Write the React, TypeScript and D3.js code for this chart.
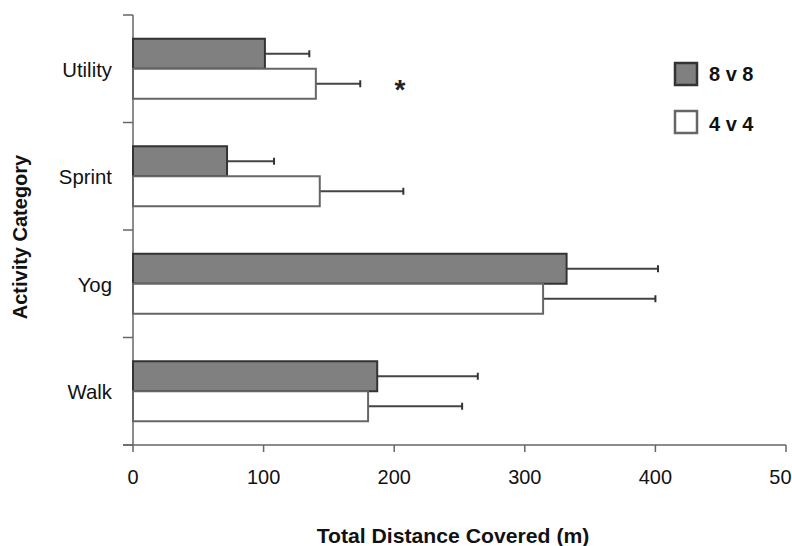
import React from "react";
import * as d3 from "d3";

const categories = ["Utility", "Sprint", "Yog", "Walk"];
const series = ["8 v 8", "4 v 4"];
const means8v8 = [101, 72, 332, 187];
const err8v8 = [34, 36, 70, 77];
const means4v4 = [140, 143, 314, 180];
const err4v4 = [34, 64, 86, 72];
const xTicks = [0, 100, 200, 300, 400, 500];
const significant = ["Utility"];

const W = 792;
const H = 546;
const FONT = "Liberation Sans, Arial, Helvetica, sans-serif";

export default function App() {
  const x = d3.scaleLinear().domain([0, 500]).range([133, 786]);
  const yBand = d3.scaleBand().domain(categories).range([15, 445]).paddingInner(0).paddingOuter(0);
  const inner = d3.scaleBand().domain(series).range([0, 60]);
  const fills = ["#808080", "#ffffff"];
  const strokes = ["#333333", "#666666"];
  const data = [
    { means: means8v8, errs: err8v8 },
    { means: means4v4, errs: err4v4 },
  ];
  const bw = yBand.bandwidth();
  const barOffset = (bw - 60) / 2;
  const axisColor = "#666";

  return (
    <svg width={W} height={H} style={{ position: "absolute", left: 0, top: 0, background: "#fff" }} fontFamily={FONT}>
      <rect x={0} y={0} width={W} height={H} fill="#fff" />
      {/* axes */}
      <line x1={x(0)} x2={x(0)} y1={15} y2={445} stroke={axisColor} strokeWidth={1.5} />
      <line x1={123} x2={x(500)} y1={445} y2={445} stroke={axisColor} strokeWidth={1.5} />
      {[...categories.map((c) => yBand(c)!), 445].map((yy, i) => (
        <line key={"yt" + i} x1={123} x2={x(0)} y1={yy} y2={yy} stroke={axisColor} strokeWidth={1.5} />
      ))}
      {xTicks.map((t) => (
        <g key={"xt" + t}>
          <line x1={x(t)} x2={x(t)} y1={445} y2={452} stroke={axisColor} strokeWidth={1.5} />
          <text x={x(t)} y={484} fontSize={21} textAnchor="middle" fill="#111" transform={`translate(${x(t)},0) scale(0.95,1) translate(${-x(t)},0)`}>{t}</text>
        </g>
      ))}
      {categories.map((c) => (
        <text key={"cl" + c} x={112} y={yBand(c)! + bw / 2 + 8} fontSize={21} textAnchor="end" fill="#111" transform={`translate(112,0) scale(0.97,1) translate(-112,0)`}>{c}</text>
      ))}
      {/* bars */}
      {series.map((s, si) =>
        categories.map((c, ci) => {
          const y0 = yBand(c)! + barOffset + inner(s)!;
          const h = inner.bandwidth();
          const v = data[si].means[ci];
          const e = data[si].errs[ci];
          const cy = y0 + h / 2;
          return (
            <g key={s + c}>
              <line x1={x(v)} x2={x(v + e)} y1={cy} y2={cy} stroke="#444" strokeWidth={2} />
              <line x1={x(v + e)} x2={x(v + e)} y1={cy - 3.5} y2={cy + 3.5} stroke="#333" strokeWidth={2} />
              <rect x={x(0)} y={y0} width={x(v) - x(0)} height={h} fill={fills[si]} stroke={strokes[si]} strokeWidth={2} />
            </g>
          );
        })
      )}
      {significant.map((c) => (
        <text key={"sig" + c} x={400} y={yBand(c)! + barOffset + 30 + 30} fontSize={28} fontWeight="bold" textAnchor="middle" fill="#222">*</text>
      ))}
      {/* legend */}
      {series.map((s, i) => (
        <g key={"lg" + s}>
          <rect x={675} y={63 + i * 48} width={22} height={22} fill={fills[i]} stroke={strokes[i]} strokeWidth={2.5} />
          <text x={709} y={81 + i * 50} fontSize={20} fontWeight="bold" fill="#111">{s}</text>
        </g>
      ))}
      {/* titles */}
      <text x={453} y={543} fontSize={20} fontWeight="bold" textAnchor="middle" fill="#111" transform="translate(453,0) scale(1.06,1) translate(-453,0)">Total Distance Covered (m)</text>
      <text transform="translate(27,237) rotate(-90)" fontSize={20} fontWeight="bold" textAnchor="middle" fill="#111">Activity Category</text>
    </svg>
  );
}
